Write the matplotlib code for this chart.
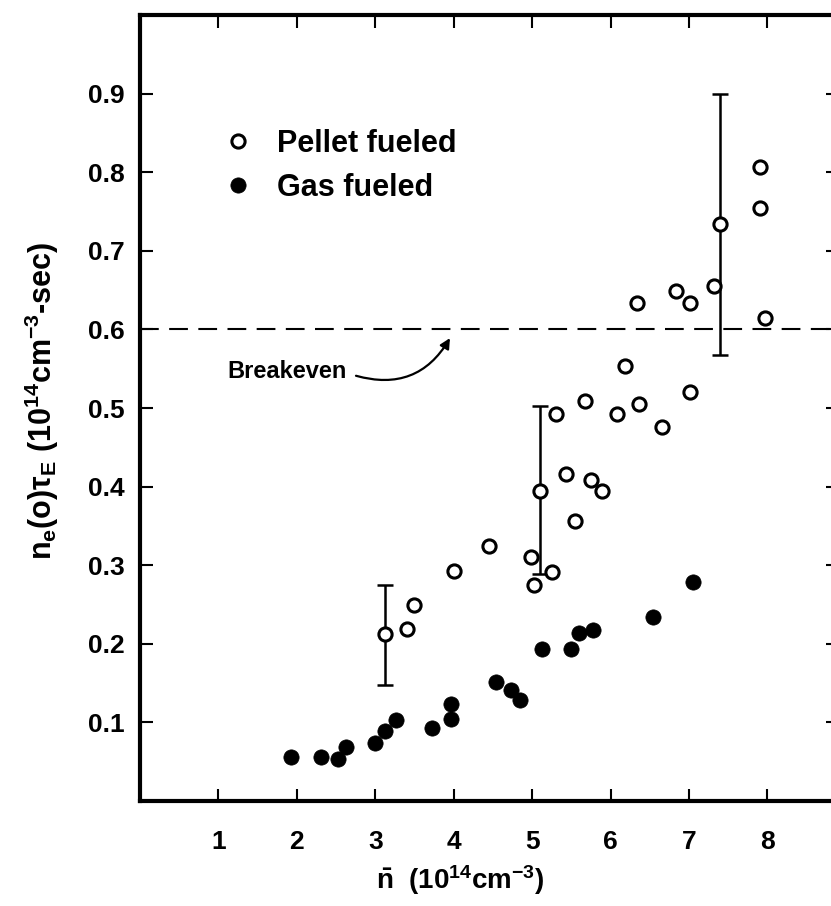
import matplotlib
matplotlib.use('Agg')
import matplotlib.pyplot as plt

# ---- data (density in 1e14 cm^-3, n*tau in 1e14 cm^-3 s)
pellet_x = [3.40, 3.50, 4.01, 4.45, 4.99, 5.25, 5.02, 5.30, 5.67, 6.08, 6.36, 6.19,
            5.43, 5.75, 5.89, 5.55, 6.34, 6.83, 7.01, 7.32, 7.01, 6.65, 7.91, 7.91, 7.97]
pellet_y = [0.219, 0.249, 0.292, 0.325, 0.311, 0.291, 0.275, 0.492, 0.509, 0.493, 0.505, 0.553,
            0.416, 0.409, 0.394, 0.356, 0.634, 0.649, 0.633, 0.655, 0.520, 0.476, 0.807, 0.754, 0.614]

# pellet points that carry an error bar
err_x = [3.13, 5.10, 7.39]
err_y = [0.212, 0.394, 0.734]
err_lo = [0.147, 0.289, 0.568]
err_hi = [0.275, 0.503, 0.899]

gas_x = [1.93, 2.31, 2.52, 2.63, 3.00, 3.13, 3.27, 3.72, 3.96, 3.97, 4.54, 4.73, 4.84,
         5.13, 5.50, 5.60, 5.78, 6.54, 7.05]
gas_y = [0.056, 0.056, 0.053, 0.069, 0.074, 0.089, 0.103, 0.093, 0.124, 0.104, 0.151, 0.141, 0.128,
         0.194, 0.194, 0.214, 0.217, 0.234, 0.278]

breakeven = 0.60
x_ticks = [1, 2, 3, 4, 5, 6, 7, 8]
y_ticks = [0.1, 0.2, 0.3, 0.4, 0.5, 0.6, 0.7, 0.8, 0.9]

plt.rcParams['font.family'] = ['Liberation Sans', 'DejaVu Sans']
plt.rcParams['font.weight'] = 'bold'
plt.rcParams['mathtext.default'] = 'regular'

fig = plt.figure(figsize=(8.31, 9.06), dpi=100)
# axes runs a little past the right edge, as in the scanned original
ax = fig.add_axes([140 / 831, 1 - 801 / 906, 698 / 831, 786 / 906])
ax.set_xlim(0, 8.9)
ax.set_ylim(0, 1.0)

# breakeven line
ax.axhline(breakeven, color='k', lw=1.5, dashes=(9, 5))

# error bars first, so the circles sit on top
ax.errorbar(err_x, err_y, yerr=[[y - lo for y, lo in zip(err_y, err_lo)],
                                [hi - y for y, hi in zip(err_y, err_hi)]],
            fmt='none', ecolor='k', elinewidth=1.8, capsize=5.5, capthick=1.8, zorder=2)

ax.plot(pellet_x + err_x, pellet_y + err_y, 'o', ms=9.5, mfc='white', mec='k', mew=2.2,
        ls='none', label='Pellet fueled', zorder=3)
ax.plot(gas_x, gas_y, 'o', ms=11, mfc='k', mec='k', mew=0.5,
        ls='none', label='Gas fueled', zorder=3)

ax.annotate('', xy=(3.97, 0.592), xytext=(2.72, 0.542),
            arrowprops=dict(arrowstyle='-|>', connectionstyle='arc3,rad=0.4',
                            lw=1.6, color='k', mutation_scale=15))
ax.text(1.87, 0.546, 'Breakeven', fontsize=17, fontweight='bold', ha='center', va='center')

ax.legend(loc='upper left', bbox_to_anchor=(0.119, 0.855), frameon=False, fontsize=22,
          handlelength=1.0, handletextpad=0.75, labelspacing=0.45, borderaxespad=0, borderpad=0)

ax.set_xticks(x_ticks)
ax.set_xticklabels([str(v) for v in x_ticks])
ax.set_yticks(y_ticks)
ax.set_yticklabels(['%.1f' % v for v in y_ticks])
ax.tick_params(direction='in', length=9, width=1.5, top=True, right=True,
               labelsize=19)
ax.tick_params(axis='x', pad=21)
ax.tick_params(axis='y', pad=11)
for lab in ax.get_xticklabels() + ax.get_yticklabels():
    lab.set_fontweight('bold')
for sp in ax.spines.values():
    sp.set_linewidth(3)

fig.text(0.554, 0.029, r'$\bar{n}$  (10$^{14}$cm$^{-3}$)', fontsize=20, fontweight='bold',
         ha='center', va='center')
fig.text(0.05, 0.558, r'n$_e$(o)τ$_E$ (10$^{14}$cm$^{-3}$-sec)', fontsize=22, fontweight='bold',
         ha='center', va='center', rotation=90)

fig.savefig('out.png', dpi=100)
